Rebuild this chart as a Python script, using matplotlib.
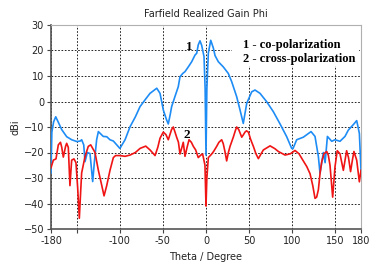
import matplotlib
matplotlib.use('Agg')
import matplotlib.pyplot as plt
from matplotlib.patches import Rectangle

# co-polarization (curve 1)
theta_co = [-180, -179, -177, -174.5, -171, -167.6, -161.8, -156, -150, -146,
            -144.4, -142, -140.5, -137.8, -134.7, -131.6, -129.7, -127, -125, -119.3,
            -115.3, -111.5, -107.6, -100, -94, -88.2, -82, -76.6, -70, -65,
            -57.2, -53.4, -49.6, -46, -43.8, -41.5, -39.9, -36, -32.2, -30.2,
            -27, -24.4, -20.5, -16.6, -12.8, -10.8, -9, -7, -5, -2.3,
            -1, 0, 1, 2.7, 5.5, 8.5, 10.5, 14.3, 20, 25.9,
            29.8, 35.6, 39.5, 43.3, 47.3, 53.1, 56.9, 62.7, 70.5, 78.2,
            86, 93.7, 99.5, 101, 105.3, 113, 122, 126.6, 130.5, 132.4,
            136.3, 138.3, 141, 146, 149.8, 155.6, 161.4, 165.3, 171, 175,
            178.1, 180]
gain_co = [-28, -12, -8, -6, -8.5, -11, -13.8, -15, -15.7, -15.5,
           -15, -17, -23.6, -20, -20.4, -31.4, -24, -15, -11.8, -13.7,
           -13.8, -15, -15.5, -18.4, -15, -9.9, -6, -2, 1, 3.2,
           5.2, 3.2, -3.3, -7, -8.8, -5, -2, 2, 5.8, 9.7,
           11, 11.7, 13.6, 15.6, 18.2, 18.9, 22.2, 23.8, 22, 17.6,
           5, -21, 5, 19, 24, 21, 18, 15.6, 13.6, 11,
           7.8, 1.9, -3.3, -8.6, -0.7, 3.8, 4.5, 3.2, -0.1, -4,
           -8.8, -13.8, -18.4, -18.5, -15, -14, -11.8, -13.7, -21.6, -28.2,
           -20, -24, -13.7, -15.6, -15, -15.6, -13.7, -11.2, -9.1, -7.5,
           -12.5, -27]

# cross-polarization (curve 2)
theta_cross = [-180, -177.3, -174.2, -171.5, -169, -167.5, -165.7, -163, -161.8, -159.9,
               -158, -156, -153.3, -151, -149, -147.1, -145.5, -144.4, -140.5, -136.7,
               -133.9, -128.9, -125, -121, -118.4, -115.3, -111.5, -107.6, -105, -100,
               -94, -88.2, -82, -76.6, -70, -65, -61, -59.2, -56, -53.4,
               -49.6, -46.5, -43.8, -40, -38, -36, -34.1, -32, -30.2, -28,
               -26.4, -24.4, -22, -19.7, -17, -14.7, -12, -9, -6, -3.9,
               -1.2, 0, 1, 2.7, 6.6, 9, 12.4, 15, 18.2, 20,
               22, 24, 26, 27.9, 31.7, 34, 35.6, 38, 41.5, 43.5,
               45.3, 47, 49.2, 52, 55, 58, 60.8, 64, 66.6, 74.4,
               80, 84, 91.8, 98, 103.4, 108, 113, 117, 120.8, 124,
               126.6, 128.5, 130.5, 132.5, 134.4, 137, 140.2, 142, 144, 147.1,
               149.8, 152.4, 155.6, 159.5, 161.5, 163.3, 165.5, 167.9, 170, 171.8,
               175, 178.1, 180]
gain_cross = [-26, -23, -22.5, -17, -16, -18, -21.8, -17.5, -16.4, -18,
              -33, -23, -22.5, -24, -34, -45.8, -35, -28, -21.6, -17.6,
              -17, -20, -27, -33, -37, -33, -27, -22, -21.2, -21.2,
              -21.5, -21, -20, -18.4, -17.5, -19, -20.5, -21.2, -18, -14.4,
              -12, -13, -15, -11, -10, -12, -14, -16, -20.6, -18,
              -16, -21.5, -18, -15, -16, -17.6, -19, -22, -21, -20.6,
              -25, -41, -30, -22, -20.6, -19.5, -17.6, -16, -15, -16.5,
              -19.6, -23.3, -20, -17.6, -14, -11.5, -10, -11, -14, -13,
              -12, -11.5, -12, -15, -17.6, -20.5, -22.4, -20.5, -19, -17.4,
              -18.5, -19.6, -21, -20.5, -19.2, -20.5, -23.3, -25.5, -28.3, -33,
              -38, -37.5, -34.6, -28, -23.6, -20.5, -19.6, -21, -25, -37.5,
              -25.6, -19.3, -20.5, -27, -23, -19.3, -22, -27.5, -23, -19.6,
              -23, -31.5, -27]

x_ticks = [-180, -150, -100, -50, 0, 50, 100, 150, 180]
x_labels = ['-180', '', '-100', '-50', '0', '50', '100', '150', '180']
y_ticks = [-50, -40, -30, -20, -10, 0, 10, 20, 30]

plt.rcParams['font.family'] = 'DejaVu Sans'
fig = plt.figure(figsize=(3.69, 2.69), dpi=100)
ax = fig.add_axes([51/369, 1 - 229/269, 310/369, 204/269])

ax.plot(theta_co, gain_co, color='#1e8cf5', lw=1.2, zorder=3)
ax.plot(theta_cross, gain_cross, color='#f01414', lw=1.2, zorder=3)

ax.set_xlim(-180, 180)
ax.set_ylim(-50, 30)
ax.set_xticks(x_ticks)
ax.set_xticklabels(x_labels)
ax.set_yticks(y_ticks)
ax.grid(True, color='black', linestyle=(0, (2, 2)), lw=0.6)
ax.tick_params(labelsize=7, length=3, width=0.8, colors='#444444', labelcolor='#222222', pad=2)

for s in ['left', 'bottom']:
    ax.spines[s].set_color('#555555')
    ax.spines[s].set_linewidth(1.2)
for s in ['top', 'right']:
    ax.spines[s].set_color('#b0b0b0')
    ax.spines[s].set_linewidth(0.8)

# white box behind the legend text
ax.add_patch(Rectangle((0.585, 0.80), 0.41, 0.195, transform=ax.transAxes,
                       facecolor='white', edgecolor='none', zorder=2))
ax.text(0.618, 0.885, '1 - co-polarization', transform=ax.transAxes,
        fontsize=9, fontweight='bold', family='Liberation Serif', zorder=4)
ax.text(0.618, 0.82, '2 - cross-polarization', transform=ax.transAxes,
        fontsize=9, fontweight='bold', family='Liberation Serif', zorder=4)
ax.text(-23, 20, '1', fontsize=9.5, fontweight='bold', family='Liberation Serif', zorder=4)
ax.text(-26, -14.5, '2', fontsize=9.5, fontweight='bold', family='Liberation Serif', zorder=4)

ax.set_title('Farfield Realized Gain Phi', fontsize=7, color='#222222', pad=6)
ax.set_xlabel('Theta / Degree', fontsize=7, color='#222222', labelpad=4)
ax.set_ylabel('dBi', fontsize=7, color='#222222', labelpad=2)

fig.savefig('out.png', dpi=100)
